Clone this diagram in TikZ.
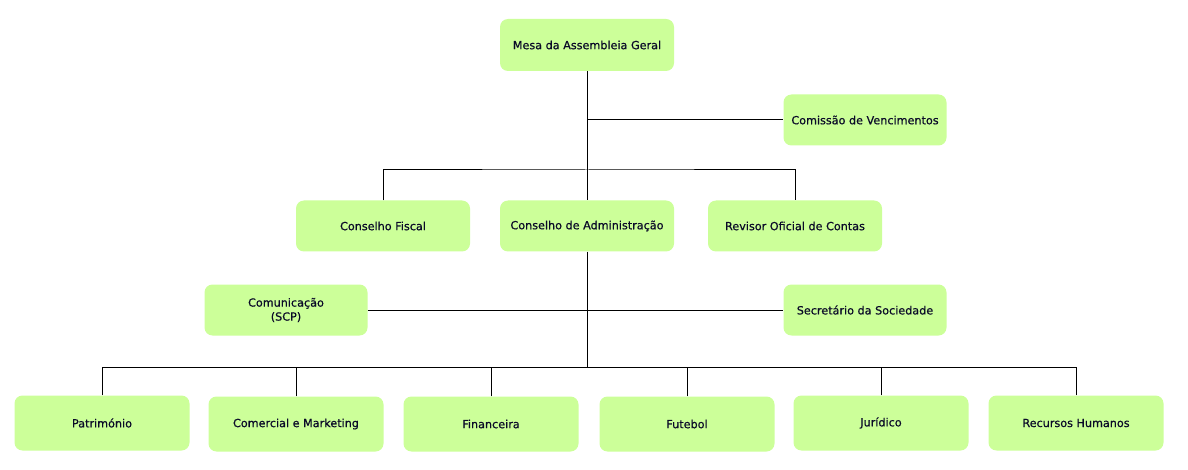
\documentclass[tikz,border=0pt]{standalone}
\usepackage{fontspec}
\setmainfont{DejaVu Sans}
\newfontfamily\boxfont[FakeBold=0.6]{DejaVu Sans}
\begin{document}
\begin{tikzpicture}[x=1pt,y=-1pt,
  box/.style={draw=none,fill=boxgreen,rounded corners=8pt,align=center,
    font=\boxfont\fontsize{11.2}{14}\selectfont,text=boxtext,inner sep=0pt},
  link/.style={draw=black,line width=1pt}]
\definecolor{boxgreen}{RGB}{204,255,153}
\definecolor{boxtext}{RGB}{10,10,40}
\useasboundingbox (0,0) rectangle (1188,470);
\fill[white] (0,0) rectangle (1188,470);
\node[box,minimum width=174pt,minimum height=52pt] (mesa) at (587,45) {Mesa da Assembleia Geral};
\node[box,minimum width=163pt,minimum height=51pt] (com) at (865,120) {Comissão de Vencimentos};
\node[box,minimum width=174pt,minimum height=51pt] (cf) at (383,226) {Conselho Fiscal};
\node[box,minimum width=174pt,minimum height=51pt] (ca) at (587,226) {Conselho de Administração};
\node[box,minimum width=174pt,minimum height=51pt] (roc) at (795,226) {Revisor Oficial de Contas};
\node[box,minimum width=163pt,minimum height=51pt] (scp) at (286,310) {Comunicação\\(SCP)};
\node[box,minimum width=163pt,minimum height=51pt] (sec) at (865,310) {Secretário da Sociedade};
\node[box,minimum width=175pt,minimum height=55pt] (pat) at (102,423) {Património};
\node[box,minimum width=175pt,minimum height=55pt] (cm) at (296,424) {Comercial e Marketing};
\node[box,minimum width=175pt,minimum height=55pt] (fin) at (491,424) {Financeira};
\node[box,minimum width=175pt,minimum height=55pt] (fut) at (687,424) {Futebol};
\node[box,minimum width=175pt,minimum height=55pt] (jur) at (881,423) {Jurídico};
\node[box,minimum width=175pt,minimum height=55pt] (rh) at (1076,423) {Recursos Humanos};
\coordinate (b1) at (587,170);
\coordinate (b2) at (587,367);
\draw[link] (mesa.south) -- (ca.north);
\draw[link] (mesa.south |- com.west) -- (com.west);
\draw[link] (cf.north) |- (b1) -| (roc.north);
\draw[link] (ca.south) -- (b2);
\draw[link] (scp.east) -- (sec.west);
\foreach \n in {pat,cm,fin,fut,jur,rh} \draw[link] (\n.north) |- (b2);
\end{tikzpicture}
\end{document}
